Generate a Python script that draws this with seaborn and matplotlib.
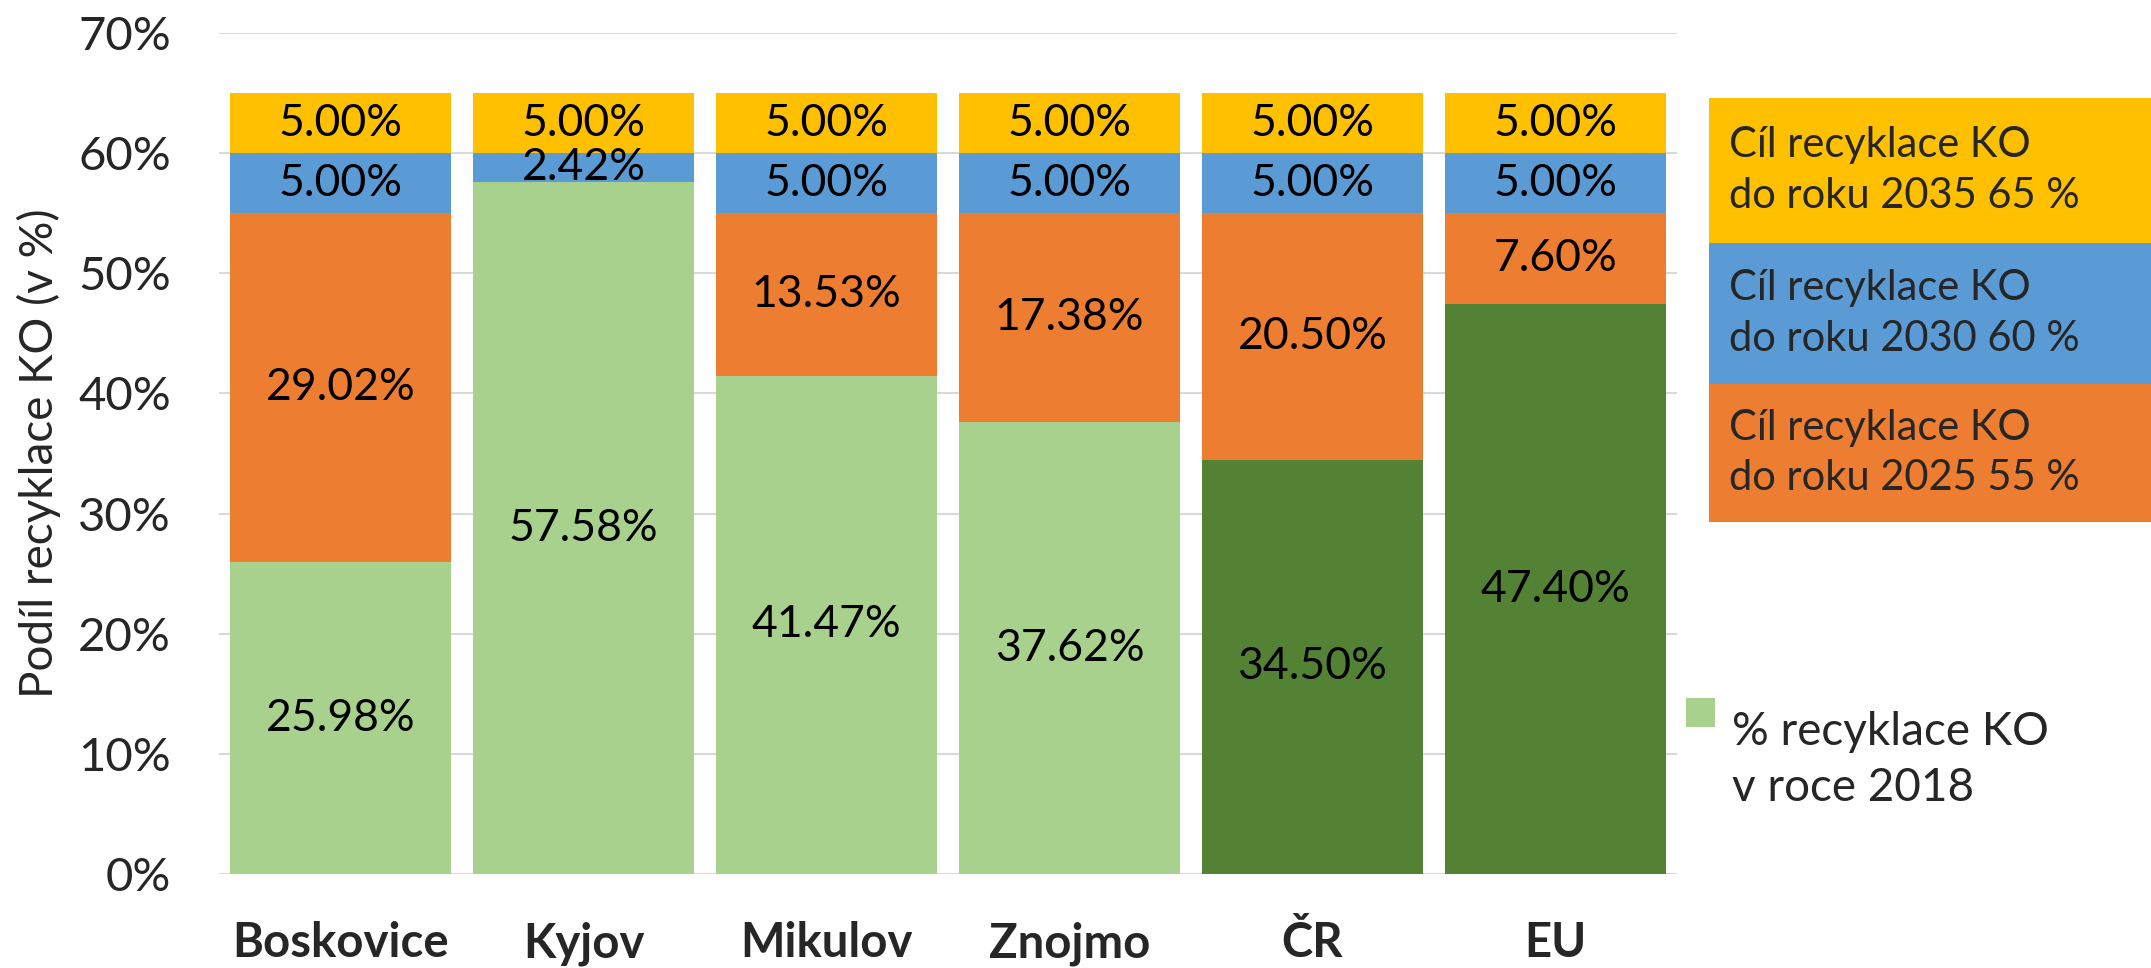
import matplotlib.pyplot as plt
import seaborn as sns
import numpy as np
from matplotlib.patches import Rectangle

# data
places = ["Boskovice", "Kyjov", "Mikulov", "Znojmo", "ČR", "EU"]
recykl_2018 = [25.98, 57.58, 41.47, 37.62, 34.50, 47.40]
cil_2025 = [29.02, 0.0, 13.53, 17.38, 20.50, 7.60]
cil_2030 = [5.00, 2.42, 5.00, 5.00, 5.00, 5.00]
cil_2035 = [5.00, 5.00, 5.00, 5.00, 5.00, 5.00]
yticks = [0, 10, 20, 30, 40, 50, 60, 70]

legend_labels = ["Cíl recyklace KO\ndo roku 2035 65 %",
                 "Cíl recyklace KO\ndo roku 2030 60 %",
                 "Cíl recyklace KO\ndo roku 2025 55 %"]
green_label = "% recyklace KO\nv roce 2018"

c_light = "#A9D18E"
c_dark = "#548235"
c_orange = "#ED7D31"
c_blue = "#5B9BD5"
c_gold = "#FFC000"
green_colors = [c_light, c_light, c_light, c_light, c_dark, c_dark]

sns.set_style("white")
plt.rcParams["font.family"] = ["Lato", "DejaVu Sans"]

base = np.array(recykl_2018)
lvl1 = base + np.array(cil_2025)
lvl2 = lvl1 + np.array(cil_2030)
lvl3 = lvl2 + np.array(cil_2035)

fig = plt.figure(figsize=(21.51, 9.68), dpi=100)
ax = fig.add_axes([0.102, 0.097, 0.6775, 0.869])

w = 0.91
# stacked bars drawn as overlapping cumulative heights
sns.barplot(x=places, y=lvl3, color=c_gold, width=w, saturation=1, linewidth=0, ax=ax)
sns.barplot(x=places, y=lvl2, color=c_blue, width=w, saturation=1, linewidth=0, ax=ax)
sns.barplot(x=places, y=lvl1, color=c_orange, width=w, saturation=1, linewidth=0, ax=ax)
sns.barplot(x=places, y=base, hue=places, palette=green_colors, legend=False,
            width=w, saturation=1, linewidth=0, ax=ax)

segments = [(np.zeros(6), base, recykl_2018),
            (base, lvl1, cil_2025),
            (lvl1, lvl2, cil_2030),
            (lvl2, lvl3, cil_2035)]
for lo, hi, vals in segments:
    for i, v in enumerate(vals):
        if v <= 0:
            continue
        ax.text(i, (lo[i] + hi[i]) / 2, f"{v:.2f}%", ha="center", va="center",
                fontsize=32, color="black")

ax.set_ylim(0, 70)
ax.set_xlim(-0.5, 5.5)
ax.set_yticks(yticks)
ax.set_yticklabels([f"{t}%" for t in yticks])
ax.yaxis.grid(True, color="#D9D9D9", linewidth=1.5)
ax.set_axisbelow(True)
for s in ax.spines.values():
    s.set_visible(False)
ax.tick_params(axis="y", length=0, labelsize=34, pad=35)
ax.tick_params(axis="x", length=0, labelsize=34, pad=34)
for lab in ax.get_xticklabels():
    lab.set_fontweight("bold")
ax.set_xlabel("")
ax.set_ylabel("Podíl recyklace KO (v %)", fontsize=33, labelpad=12)

# target boxes on the right
box_x0 = 0.7945
boxes = [(0.749, 0.899, c_gold), (0.603, 0.749, c_blue), (0.461, 0.603, c_orange)]
for (y0, y1, col), txt in zip(boxes, legend_labels):
    fig.add_artist(Rectangle((box_x0, y0), 1 - box_x0, y1 - y0,
                             transform=fig.transFigure, color=col, lw=0))
    fig.text(0.804, (y0 + y1) / 2, txt, ha="left", va="center", fontsize=30,
             linespacing=1.4)

# green legend entry
fig.add_artist(Rectangle((0.784, 0.249), 0.0135, 0.030,
                         transform=fig.transFigure, color=c_light, lw=0))
fig.text(0.805, 0.215, green_label, ha="left", va="center", fontsize=33,
         linespacing=1.4)

plt.savefig("out.png", dpi=100)
